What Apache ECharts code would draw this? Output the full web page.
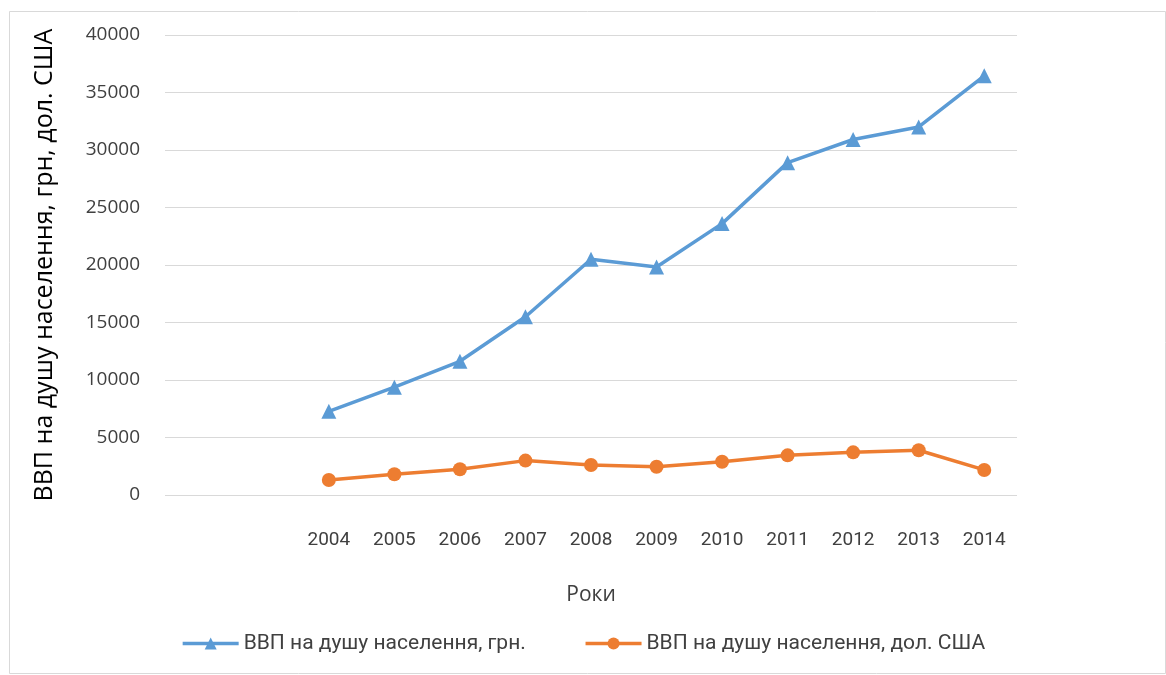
<!DOCTYPE html>
<html><head><meta charset="utf-8">
<script src="https://cdn.jsdelivr.net/npm/echarts@6/dist/echarts.min.js"></script>
<style>html,body{margin:0;padding:0;background:#fff}#c{width:1166px;height:675px}</style>
</head><body><div id="c"></div>
<script>
const categories = ['', '', '2004','2005','2006','2007','2008','2009','2010','2011','2012','2013','2014'];
const uahName = 'ВВП на душу населення, грн.';
const usdName = 'ВВП на душу населення, дол. США';
const uahValues = [null, null, 7273, 9372, 11630, 15496, 20495, 19832, 23600, 28900, 30913, 32002, 36450];
const usdValues = [null, null, 1304, 1800, 2240, 2990, 2610, 2460, 2890, 3450, 3710, 3890, 2180];
const yTicks = {min: 0, max: 40000, interval: 5000};
const yTitle = 'ВВП на душу населення, грн, дол. США';
const xTitle = 'Роки';

const narrow = "'Liberation Sans Narrow', Roboto, sans-serif";
const chart = echarts.init(document.getElementById('c'));
chart.setOption({
  animation: false,
  backgroundColor: '#fff',
  graphic: [{type:'rect', shape:{x:9.5,y:11.5,width:1156,height:662}, style:{fill:'none', stroke:'#d9d9d9', lineWidth:1}, z:-1}],
  grid: {left: 165, right: 149, top: 35, bottom: 180},
  xAxis: {
    type: 'category', data: categories, boundaryGap: true,
    axisLine: {show: false}, axisTick: {show: false},
    axisLabel: {color: '#404040', fontFamily: narrow, fontSize: 19, margin: 36},
    name: xTitle, nameLocation: 'middle', nameGap: 90,
    nameTextStyle: {color: '#404040', fontFamily: 'Open Sans', fontSize: 21}
  },
  yAxis: {
    type: 'value', min: yTicks.min, max: yTicks.max, interval: yTicks.interval,
    axisLine: {show: false}, axisTick: {show: false},
    splitLine: {lineStyle: {color: '#d9d9d9', width: 1}},
    axisLabel: {color: '#404040', fontFamily: 'Open Sans', fontSize: 19, margin: 25,
      formatter: v => String(v)},
    name: yTitle, nameLocation: 'middle', nameGap: 108,
    nameTextStyle: {color: '#000', fontFamily: 'Open Sans', fontSize: 25}
  },
  legend: {
    bottom: 16, left: 'center', itemGap: 58, itemWidth: 56, itemHeight: 15,
    lineStyle: {width: 3.5},
    textStyle: {color: '#404040', fontFamily: narrow, fontSize: 21},
    data: [{name: uahName}, {name: usdName}]
  },
  series: [
    {name: uahName, type: 'line', data: uahValues, symbol: 'triangle', symbolSize: 15,
     lineStyle: {color: '#5B9BD5', width: 3.5}, itemStyle: {color: '#5B9BD5'}},
    {name: usdName, type: 'line', data: usdValues, symbol: 'circle', symbolSize: 14,
     lineStyle: {color: '#ED7D31', width: 3.5}, itemStyle: {color: '#ED7D31'}}
  ]
});
</script></body></html>
